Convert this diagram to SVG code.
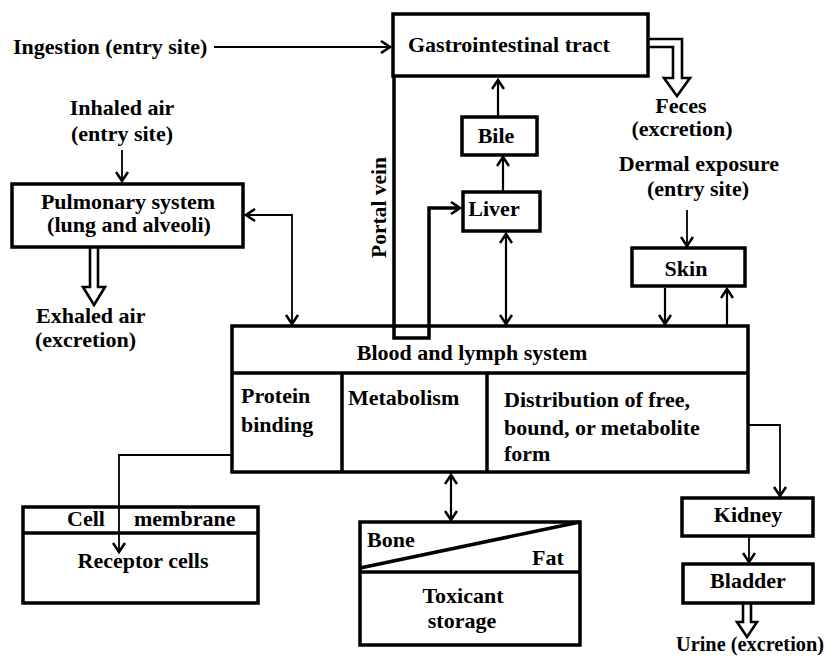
<svg xmlns="http://www.w3.org/2000/svg" width="828" height="659" viewBox="0 0 828 659">
<style>
.t{font-family:"Liberation Serif","Times New Roman",serif;font-weight:bold;font-size:22px;fill:#000}
.m{text-anchor:middle}
.box{fill:#fff;stroke:#000;stroke-width:3.5}
.ln{fill:none;stroke:#000;stroke-width:3.5}
.c{fill:none;stroke:#000;stroke-width:1.8}
.c2{fill:none;stroke:#000;stroke-width:2.2}
.h{fill:none;stroke:#000;stroke-width:2.6;stroke-linejoin:miter}
</style>
<defs>
<marker id="a" markerUnits="userSpaceOnUse" markerWidth="14" markerHeight="14" viewBox="0 0 14 14" refX="12" refY="7" orient="auto-start-reverse">
<path d="M3,1 L12,7 L3,13" fill="none" stroke="#000" stroke-width="2.6"/>
</marker>
</defs>
<rect width="828" height="659" fill="#fff"/>

<g id="gi">
<rect class="box" x="393" y="14" width="255" height="62"/>
<text class="t" x="408" y="52">Gastrointestinal tract</text>
</g>
<g id="ingestion"><text class="t" x="13" y="54">Ingestion (entry site)</text></g>
<g id="inhaled"><text class="t m" x="122" y="115">Inhaled air</text><text class="t m" x="122" y="141">(entry site)</text></g>
<g id="pulmonary">
<rect class="box" x="12" y="184" width="231" height="63"/>
<text class="t m" x="128" y="209">Pulmonary system</text>
<text class="t m" x="129" y="232">(lung and alveoli)</text>
</g>
<g id="exhaled"><text class="t" x="36" y="323">Exhaled air</text><text class="t" x="35" y="347">(excretion)</text></g>
<g id="bile"><rect class="box" x="462" y="117" width="75" height="38"/><text class="t m" x="496" y="143">Bile</text></g>
<g id="liver"><rect class="box" x="463" y="192" width="77" height="39"/><text class="t m" x="494" y="216">Liver</text></g>
<g id="feces"><text class="t m" x="681" y="113">Feces</text><text class="t m" x="682" y="136">(excretion)</text></g>
<g id="dermal"><text class="t m" x="699" y="171">Dermal exposure</text><text class="t m" x="698" y="196">(entry site)</text></g>
<g id="skin"><rect class="box" x="632" y="248" width="113" height="38"/><text class="t m" x="686" y="276">Skin</text></g>

<g id="blood">
<rect class="box" x="232" y="326" width="516" height="146"/>
<path class="ln" d="M232,373 H748 M342,373 V472 M487,373 V472"/>
<text class="t m" x="472" y="360">Blood and lymph system</text>
<text class="t" x="241" y="403">Protein</text>
<text class="t" x="241" y="432">binding</text>
<text class="t" x="348" y="405">Metabolism</text>
<text class="t" x="504" y="407">Distribution of free,</text>
<text class="t" x="504" y="435">bound, or metabolite</text>
<text class="t" x="504" y="461">form</text>
</g>

<g id="cell">
<rect class="box" x="23" y="507" width="235" height="96"/>
<path class="ln" d="M23,533 H258"/>
<text class="t" x="67" y="526">Cell</text>
<text class="t" x="134" y="526">membrane</text>
<text class="t m" x="143" y="568">Receptor cells</text>
</g>

<g id="storage">
<rect class="box" x="360" y="522" width="220" height="123"/>
<path class="ln" d="M360,572 H580 M360,568 L580,522"/>
<text class="t" x="367" y="547">Bone</text>
<text class="t" x="532" y="565">Fat</text>
<text class="t m" x="463" y="603">Toxicant</text>
<text class="t m" x="462" y="628">storage</text>
</g>

<g id="kidney"><rect class="box" x="682" y="498" width="131" height="38"/><text class="t m" x="748" y="522">Kidney</text></g>
<g id="bladder"><rect class="box" x="683" y="564" width="130" height="39"/><text class="t m" x="748" y="588">Bladder</text></g>
<g id="urine"><text class="t" x="676" y="651" font-size="21" textLength="148" lengthAdjust="spacingAndGlyphs" style="font-size:21px">Urine (excretion)</text></g>

<g id="connectors">
<path class="ln" d="M394,76 V338 H429 V208 H460" marker-end="url(#a)"/>
<text class="t" transform="translate(386,258) rotate(-90)" textLength="101" lengthAdjust="spacingAndGlyphs">Portal vein</text>
<path class="c" d="M214,47 H390" marker-end="url(#a)"/>
<path class="c" d="M122,150 V181" marker-end="url(#a)"/>
<path class="c" d="M246,215 H292 V324" marker-start="url(#a)" marker-end="url(#a)"/>
<path class="c2" d="M498,117 V80" marker-end="url(#a)"/>
<path class="c2" d="M503,192 V157" marker-end="url(#a)"/>
<path class="c2" d="M506,234 V324" marker-start="url(#a)" marker-end="url(#a)"/>
<path class="c" d="M687,210 V246" marker-end="url(#a)"/>
<path class="c2" d="M665,288 V324" marker-end="url(#a)"/>
<path class="c2" d="M727,325 V289" marker-end="url(#a)"/>
<path class="c2" d="M451,475 V520" marker-start="url(#a)" marker-end="url(#a)"/>
<path class="c" d="M232,455 H119 V552" marker-end="url(#a)"/>
<path class="c" d="M748,425 H780 V496" marker-end="url(#a)"/>
<path class="c" d="M749,537 V562" marker-end="url(#a)"/>
<path class="h" d="M648,39 H682 V78 H690 L677,96 L664,78 H673 V47 H648"/>
<path class="h" d="M90,247 V287 H83 L94,305 L105,287 H98 V247"/>
<path class="h" d="M743,603 V622 H737 L747,637 L757,622 H751 V603"/>
</g>
</svg>
